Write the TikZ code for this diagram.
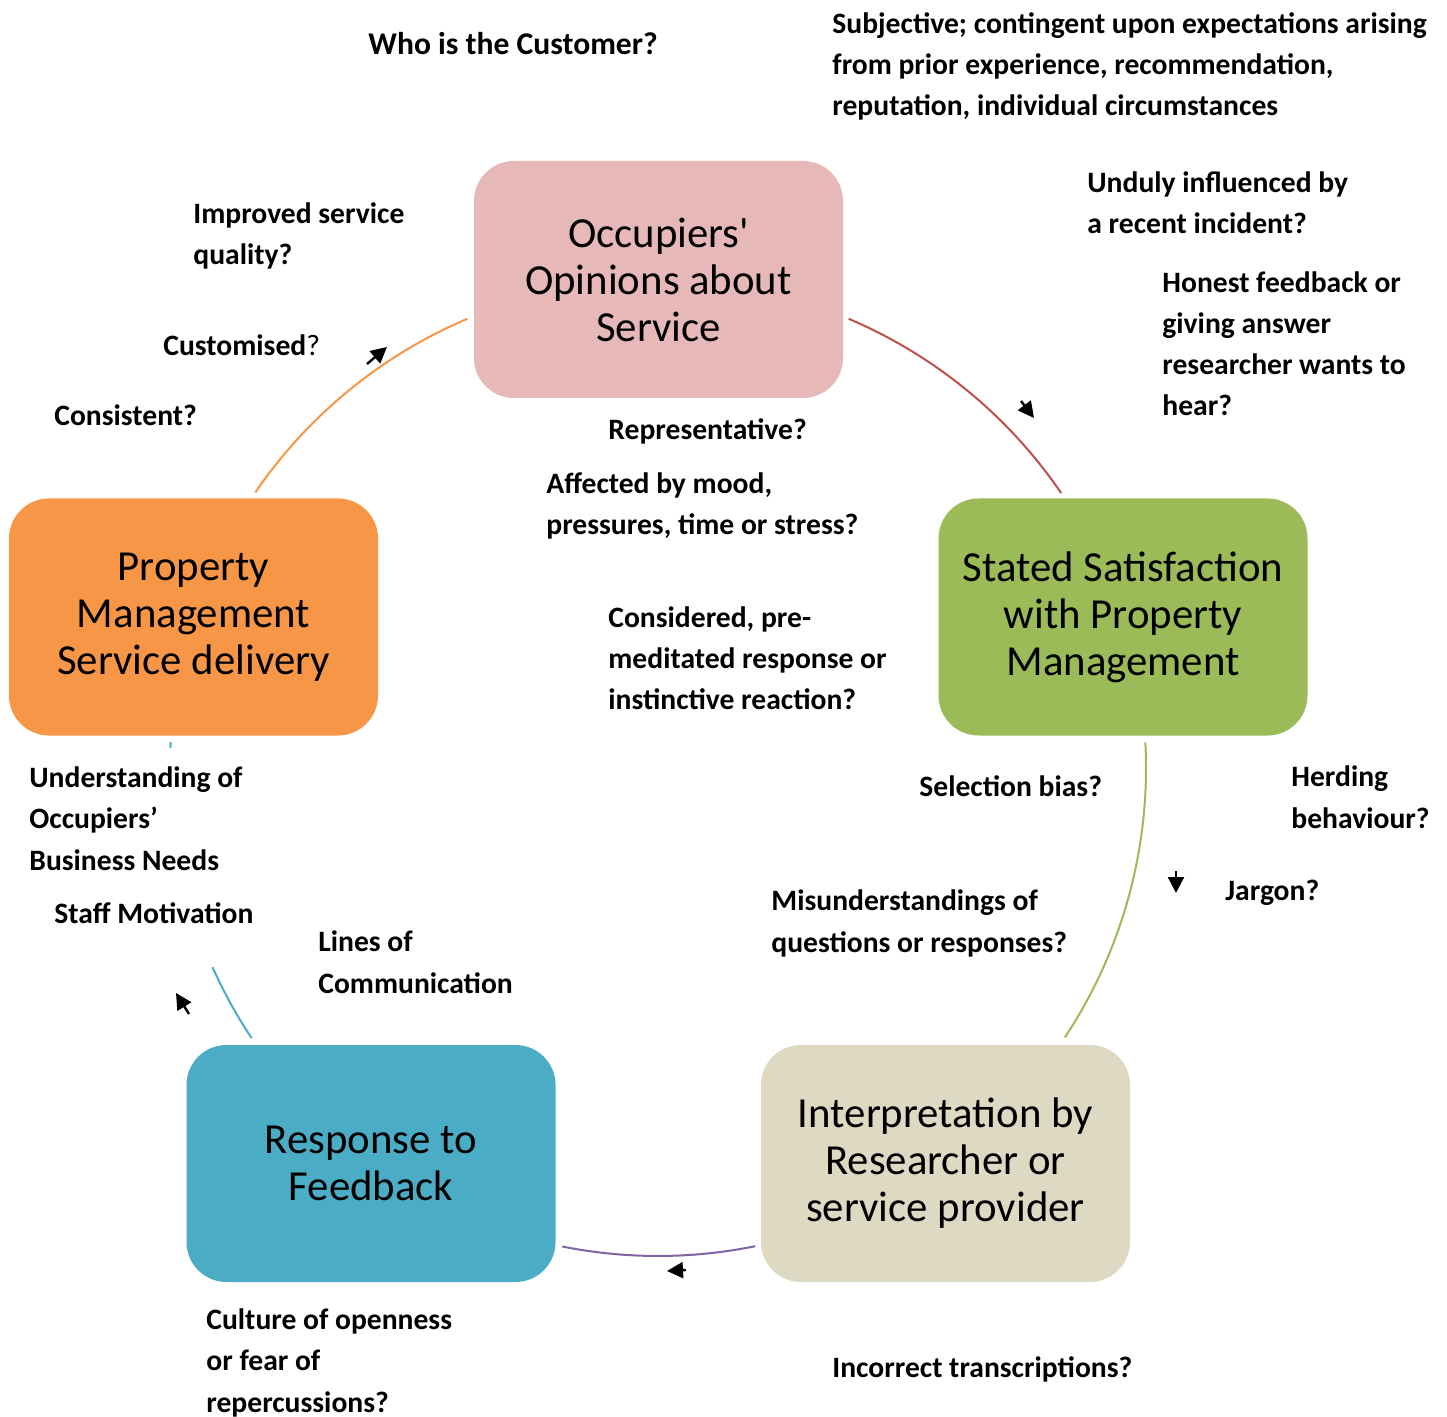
\documentclass[tikz,border=0pt]{standalone}
\usepackage{fontspec}
\setmainfont{Carlito}
\usetikzlibrary{arrows.meta}
\definecolor{occfill}{HTML}{E6B9B8}
\definecolor{pmfill}{HTML}{F79646}
\definecolor{ssfill}{HTML}{9BBB59}
\definecolor{intfill}{HTML}{DDD9C3}
\definecolor{resfill}{HTML}{4BACC6}
\definecolor{redline}{HTML}{C0504D}
\definecolor{purpleline}{HTML}{8064A2}
\begin{document}
\begin{tikzpicture}[x=0.5pt,y=-0.5pt,
  stage/.style={rounded corners=20pt, minimum width=184.5pt, minimum height=118.5pt,
    inner sep=0pt, align=center, font=\fontsize{21.4}{23.5}\selectfont},
  lbl/.style={inner sep=0pt, anchor=base west, align=left,
    font=\bfseries\fontsize{14.8}{20.65}\selectfont},
  cyc/.style={line width=1pt},
  flow/.style={line width=1.2pt, -{Triangle[length=8pt,width=8pt]}}]
\useasboundingbox (0,0) rectangle (1447,1417);
\fill[white] (0,0) rectangle (1447,1417);

% centre of the cycle
\coordinate (c) at (658,768);

% stages
\node[stage, fill=occfill] (occ) at (658.5,279.5) {Occupiers\textquotesingle\\Opinions about\\Service};
\node[stage, fill=pmfill] (pm) at (193.5,617) {Property\\Management\\Service delivery};
\node[stage, fill=ssfill] (ss) at (1123,617) {Stated Satisfaction\\with Property\\Management};
\node[stage, fill=intfill] (int) at (945.5,1163.5) {Interpretation by\\Researcher or\\service provider};
\node[stage, fill=resfill] (res) at (371,1163.5) {Response to\\Feedback};

% cycle arcs
\draw[cyc, pmfill] ([shift={(-145.6:488)}]c) arc[start angle=-145.6, end angle=-113, radius=488];
\draw[cyc, redline] ([shift={(-67:488)}]c) arc[start angle=-67, end angle=-34.3, radius=488];
\draw[cyc, ssfill] ([shift={(-3:488)}]c) arc[start angle=-3, end angle=33.5, radius=488];
\draw[cyc, purpleline] ([shift={(78.5:488)}]c) arc[start angle=78.5, end angle=101.3, radius=488];
\draw[cyc, resfill] ([shift={(146.4:488)}]c) arc[start angle=146.4, end angle=155.9, radius=488];
\draw[cyc, resfill] ([shift={(182.35:488)}]c) arc[start angle=182.35, end angle=183.05, radius=488];

% direction markers
\coordinate (o1) at (367,364); \coordinate (o2) at (387,347);
\coordinate (r1) at (1021,401); \coordinate (r2) at (1034,418);
\coordinate (g1) at (1176,871); \coordinate (g2) at (1176,893);
\coordinate (p1) at (686,1270); \coordinate (p2) at (667,1271);
\coordinate (b1) at (189,1014); \coordinate (b2) at (176,993);
\draw[flow] (o1) -- (o2);
\draw[flow] (r1) -- (r2);
\draw[flow] (g1) -- (g2);
\draw[flow] (p1) -- (p2);
\draw[flow] (b1) -- (b2);

% questions (anchored at the baseline of their last line)
\node[lbl, font=\bfseries\fontsize{15.8}{20.65}\selectfont] (t1) at (368,55) {Who is the Customer?};
\node[lbl] (t2) at (832,116) {Subjective; contingent upon expectations arising\\from prior experience, recommendation,\\reputation, individual circumstances};
\node[lbl] (t3) at (1087,234) {Unduly influenced by\\a recent incident?};
\node[lbl] (t4) at (1162,416) {Honest feedback or\\giving answer\\researcher wants to\\hear?};
\node[lbl] (t5) at (193,265) {Improved service\\quality?};
\node[lbl] (t6) at (163,356) {Customised\mdseries?};
\node[lbl] (t7) at (54,426) {Consistent?};
\node[lbl] (t8) at (608,440) {Representative?};
\node[lbl] (t9) at (546,535) {Affected by mood,\\pressures, time or stress?};
\node[lbl] (t10) at (608,710) {Considered, pre-\\meditated response or\\instinctive reaction?};
\node[lbl] (t11) at (919,796) {Selection bias?};
\node[lbl] (t12) at (1291,828) {Herding\\behaviour?};
\node[lbl] (t13) at (1225,900) {Jargon?};
\node[lbl] (t14) at (771,952) {Misunderstandings of\\questions or responses?};
\node[lbl] (t15) at (29,870) {Understanding of\\Occupiers’\\Business Needs};
\node[lbl] (t16) at (54,923) {Staff Motivation};
\node[lbl] (t17) at (318,993) {Lines of\\Communication};
\node[lbl] (t18) at (206,1412) {Culture of openness\\or fear of\\repercussions?};
\node[lbl] (t19) at (832,1377) {Incorrect transcriptions?};
\end{tikzpicture}
\end{document}
